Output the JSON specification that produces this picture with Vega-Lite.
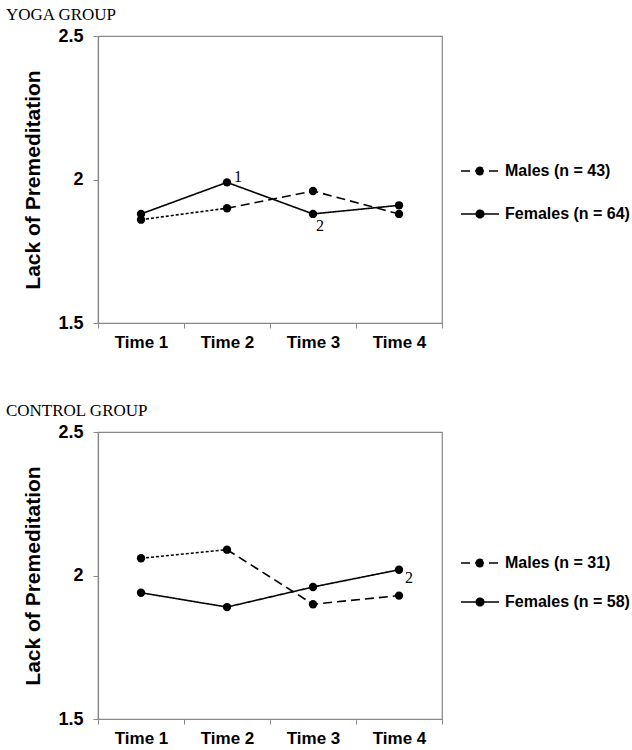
{
  "$schema": "https://vega.github.io/schema/vega-lite/v6.json",
  "background": "white",
  "padding": {"left": 5, "top": 5, "right": 5, "bottom": 3},
  "spacing": 50,
  "datasets": {
    "yoga": [
      {"time": "Time 1", "sex": "Males", "series": "Males (n = 43)", "value": 1.86, "note": ""},
      {"time": "Time 2", "sex": "Males", "series": "Males (n = 43)", "value": 1.90, "note": ""},
      {"time": "Time 3", "sex": "Males", "series": "Males (n = 43)", "value": 1.96, "note": ""},
      {"time": "Time 4", "sex": "Males", "series": "Males (n = 43)", "value": 1.88, "note": ""},
      {"time": "Time 1", "sex": "Females", "series": "Females (n = 64)", "value": 1.88, "note": ""},
      {"time": "Time 2", "sex": "Females", "series": "Females (n = 64)", "value": 1.99, "note": "1"},
      {"time": "Time 3", "sex": "Females", "series": "Females (n = 64)", "value": 1.88, "note": "2"},
      {"time": "Time 4", "sex": "Females", "series": "Females (n = 64)", "value": 1.91, "note": ""}
    ],
    "control": [
      {"time": "Time 1", "sex": "Males", "series": "Males (n = 31)", "value": 2.06, "note": ""},
      {"time": "Time 2", "sex": "Males", "series": "Males (n = 31)", "value": 2.09, "note": ""},
      {"time": "Time 3", "sex": "Males", "series": "Males (n = 31)", "value": 1.90, "note": ""},
      {"time": "Time 4", "sex": "Males", "series": "Males (n = 31)", "value": 1.93, "note": ""},
      {"time": "Time 1", "sex": "Females", "series": "Females (n = 58)", "value": 1.94, "note": ""},
      {"time": "Time 2", "sex": "Females", "series": "Females (n = 58)", "value": 1.89, "note": ""},
      {"time": "Time 3", "sex": "Females", "series": "Females (n = 58)", "value": 1.96, "note": ""},
      {"time": "Time 4", "sex": "Females", "series": "Females (n = 58)", "value": 2.02, "note": "2"}
    ]
  },
  "config": {
    "view": {"stroke": "#888888", "strokeWidth": 1.2},
    "axis": {
      "domainColor": "#888888",
      "domainWidth": 1.2,
      "tickColor": "#888888",
      "tickSize": 5,
      "grid": false,
      "labelFont": "Liberation Sans",
      "labelFontWeight": "bold",
      "labelFontSize": 17,
      "labelColor": "black",
      "titleFont": "Liberation Sans",
      "titleFontWeight": "bold",
      "titleFontSize": 21,
      "titleColor": "black"
    },
    "legend": {
      "orient": "none",
      "title": null,
      "labelFont": "Liberation Sans",
      "labelFontWeight": "bold",
      "labelFontSize": 16,
      "labelColor": "black",
      "symbolType": "M-1,0H1M-0.2,0A0.2,0.2,0,1,1,0.2,0A0.2,0.2,0,1,1,-0.2,0Z",
      "symbolSize": 1444,
      "symbolStrokeWidth": 1.5,
      "symbolStrokeColor": "black",
      "symbolFillColor": "black",
      "labelOffset": 5
    },
    "title": {
      "anchor": "start",
      "font": "Liberation Serif",
      "fontSize": 17,
      "fontWeight": "normal",
      "color": "black"
    }
  },
  "resolve": {"scale": {"strokeDash": "independent"}, "legend": {"strokeDash": "independent"}},
  "vconcat": [
    {
      "title": {"text": "YOGA GROUP", "dx": -17, "offset": 3},
      "width": 344,
      "height": 287,
      "data": {"name": "yoga"},
      "encoding": {
        "x": {
          "field": "time", "type": "ordinal", "bandPosition": 0.5,
          "scale": {"type": "band", "paddingInner": 0, "paddingOuter": 0},
          "axis": {"title": null, "labelAngle": 0, "tickBand": "extent", "labelPadding": 6}
        },
        "y": {
          "field": "value", "type": "quantitative",
          "scale": {"domain": [1.5, 2.5], "nice": false, "zero": false},
          "axis": {"title": "Lack of Premeditation", "values": [1.5, 2, 2.5], "format": ".1~f", "labelPadding": 10, "titlePadding": 14, "labelFontSize": 18}
        }
      },
      "layer": [
        {
          "transform": [{"filter": "datum.sex == 'Females' || datum.time != 'Time 1'"}],
          "mark": {"type": "line", "color": "black", "strokeWidth": 1.6},
          "encoding": {
            "detail": {"field": "sex"},
            "strokeDash": {
              "field": "series", "type": "nominal",
              "scale": {"domain": ["Males (n = 43)", "Females (n = 64)"], "range": [[9, 5], [1, 0]]},
              "legend": {"legendX": 362, "legendY": 115, "rowPadding": 15, "encode": {"symbols": {"update": {"fill": {"value": "black"}, "stroke": {"value": "black"}}}}}
            }
          }
        },
        {
          "transform": [{"filter": "datum.sex == 'Males' && (datum.time == 'Time 1' || datum.time == 'Time 2')"}],
          "mark": {"type": "line", "color": "black", "strokeWidth": 1.6, "strokeDash": [3, 2]},
          "encoding": {}
        },
        {
          "mark": {"type": "point", "filled": true, "color": "black", "size": 70, "opacity": 1},
          "encoding": {}
        },
        {
          "transform": [{"filter": "datum.note != '' && datum.time == 'Time 2'"}],
          "mark": {"type": "text", "font": "Liberation Serif", "fontSize": 16, "align": "left", "baseline": "middle", "dx": 7, "dy": -5, "color": "black"},
          "encoding": {"text": {"field": "note"}}
        },
        {
          "transform": [{"filter": "datum.note != '' && datum.time == 'Time 3'"}],
          "mark": {"type": "text", "font": "Liberation Serif", "fontSize": 16, "align": "left", "baseline": "middle", "dx": 3, "dy": 12, "color": "black"},
          "encoding": {"text": {"field": "note"}}
        }
      ]
    },
    {
      "title": {"text": "CONTROL GROUP", "dx": -17, "offset": 3},
      "width": 344,
      "height": 287,
      "data": {"name": "control"},
      "encoding": {
        "x": {
          "field": "time", "type": "ordinal", "bandPosition": 0.5,
          "scale": {"type": "band", "paddingInner": 0, "paddingOuter": 0},
          "axis": {"title": null, "labelAngle": 0, "tickBand": "extent", "labelPadding": 6}
        },
        "y": {
          "field": "value", "type": "quantitative",
          "scale": {"domain": [1.5, 2.5], "nice": false, "zero": false},
          "axis": {"title": "Lack of Premeditation", "values": [1.5, 2, 2.5], "format": ".1~f", "labelPadding": 10, "titlePadding": 14, "labelFontSize": 18}
        }
      },
      "layer": [
        {
          "transform": [{"filter": "datum.sex == 'Females' || datum.time != 'Time 1'"}],
          "mark": {"type": "line", "color": "black", "strokeWidth": 1.6},
          "encoding": {
            "detail": {"field": "sex"},
            "strokeDash": {
              "field": "series", "type": "nominal",
              "scale": {"domain": ["Males (n = 31)", "Females (n = 58)"], "range": [[9, 5], [1, 0]]},
              "legend": {"legendX": 362, "legendY": 111, "rowPadding": 11, "encode": {"symbols": {"update": {"fill": {"value": "black"}, "stroke": {"value": "black"}}}}}
            }
          }
        },
        {
          "transform": [{"filter": "datum.sex == 'Males' && (datum.time == 'Time 1' || datum.time == 'Time 2')"}],
          "mark": {"type": "line", "color": "black", "strokeWidth": 1.6, "strokeDash": [3, 2]},
          "encoding": {}
        },
        {
          "mark": {"type": "point", "filled": true, "color": "black", "size": 70, "opacity": 1},
          "encoding": {}
        },
        {
          "transform": [{"filter": "datum.note != ''"}],
          "mark": {"type": "text", "font": "Liberation Serif", "fontSize": 16, "align": "left", "baseline": "middle", "dx": 6, "dy": 8, "color": "black"},
          "encoding": {"text": {"field": "note"}}
        }
      ]
    }
  ]
}
